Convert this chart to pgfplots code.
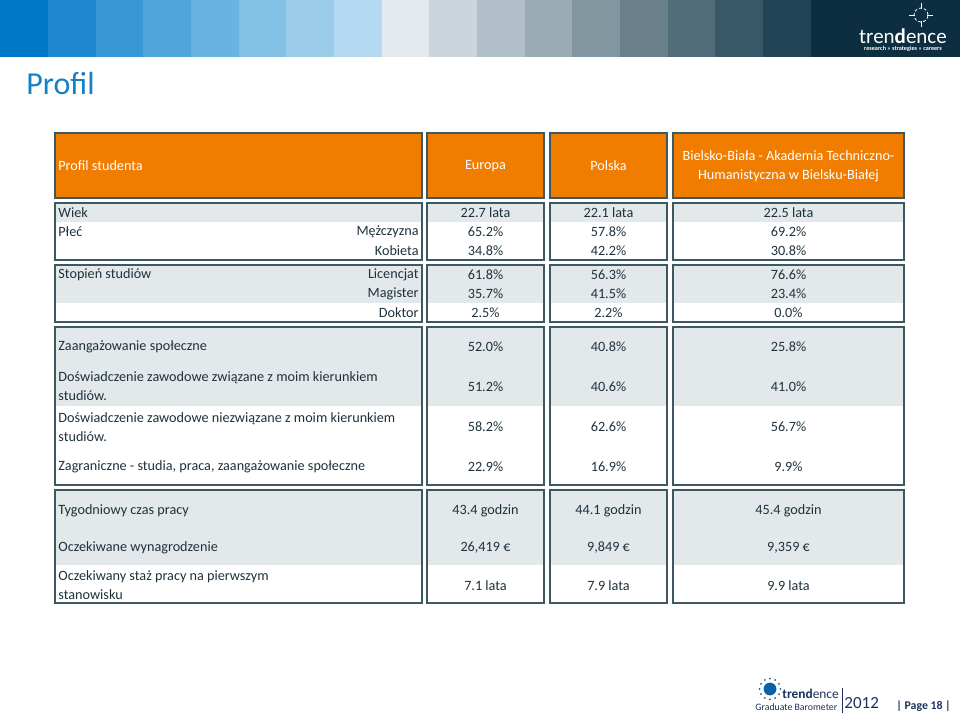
\documentclass[border=0pt]{standalone}
\usepackage{fontspec}
\setmainfont{Carlito}
\usepackage{pgfplots}
\pgfplotsset{compat=1.18}
\definecolor{orangeH}{RGB}{240,125,0}
\definecolor{bandG}{RGB}{227,232,235}
\definecolor{frameC}{RGB}{62,88,97}
\definecolor{txtC}{RGB}{30,50,60}
\definecolor{titleC}{RGB}{22,128,196}
\definecolor{navy}{RGB}{30,48,92}
\definecolor{c1}{RGB}{0,120,200}
\definecolor{c2}{RGB}{30,137,208}
\definecolor{c3}{RGB}{55,151,213}
\definecolor{c4}{RGB}{80,165,219}
\definecolor{c5}{RGB}{104,179,225}
\definecolor{c6}{RGB}{130,192,230}
\definecolor{c7}{RGB}{155,205,235}
\definecolor{c8}{RGB}{180,217,240}
\definecolor{c9}{RGB}{227,233,237}
\definecolor{c10}{RGB}{202,214,220}
\definecolor{c11}{RGB}{177,192,200}
\definecolor{c12}{RGB}{154,171,180}
\definecolor{c13}{RGB}{130,150,160}
\definecolor{c14}{RGB}{105,128,140}
\definecolor{c15}{RGB}{80,108,121}
\definecolor{c16}{RGB}{56,88,103}
\definecolor{c17}{RGB}{33,69,86}
\definecolor{c18}{RGB}{13,46,64}
\newcommand{\tf}{\fontsize{7.1}{9.5}\selectfont}
\newcommand{\fourfill}[2]{%
  \fill[bandG] (axis cs:55,#1) rectangle (axis cs:422,#2);
  \fill[bandG] (axis cs:427,#1) rectangle (axis cs:544,#2);
  \fill[bandG] (axis cs:550,#1) rectangle (axis cs:667,#2);
  \fill[bandG] (axis cs:673,#1) rectangle (axis cs:904,#2);}
\newcommand{\fourframe}[2]{%
  \draw[frameC, line width=0.8pt] (axis cs:55,#1) rectangle (axis cs:422,#2);
  \draw[frameC, line width=0.8pt] (axis cs:427,#1) rectangle (axis cs:544,#2);
  \draw[frameC, line width=0.8pt] (axis cs:550,#1) rectangle (axis cs:667,#2);
  \draw[frameC, line width=0.8pt] (axis cs:673,#1) rectangle (axis cs:904,#2);}
\newcommand{\gdot}[1]{\fill[c1!60!navy] (axis cs:770,689) ++(#1:5.2pt) circle[radius=0.5pt];}
\pgfplotsset{valstyle/.style={draw=none, mark=none, nodes near coords, point meta=explicit symbolic,
    nodes near coords style={anchor=center, font=\tf, text=txtC, inner sep=0pt}}}
\begin{document}
\begin{tikzpicture}
\begin{axis}[hide axis, scale only axis, width=480pt, height=358.5pt,
  xmin=0, xmax=960, ymin=0, ymax=717, y dir=reverse, clip=false]
% top band
\fill[c1] (axis cs:0,0) rectangle (axis cs:48,57);
\fill[c2] (axis cs:48,0) rectangle (axis cs:95.5,57);
\fill[c3] (axis cs:95.5,0) rectangle (axis cs:143,57);
\fill[c4] (axis cs:143,0) rectangle (axis cs:191,57);
\fill[c5] (axis cs:191,0) rectangle (axis cs:238.5,57);
\fill[c6] (axis cs:238.5,0) rectangle (axis cs:286,57);
\fill[c7] (axis cs:286,0) rectangle (axis cs:334,57);
\fill[c8] (axis cs:334,0) rectangle (axis cs:381.5,57);
\fill[c9] (axis cs:381.5,0) rectangle (axis cs:429,57);
\fill[c10] (axis cs:429,0) rectangle (axis cs:477,57);
\fill[c11] (axis cs:477,0) rectangle (axis cs:524.5,57);
\fill[c12] (axis cs:524.5,0) rectangle (axis cs:572,57);
\fill[c13] (axis cs:572,0) rectangle (axis cs:620,57);
\fill[c14] (axis cs:620,0) rectangle (axis cs:667.5,57);
\fill[c15] (axis cs:667.5,0) rectangle (axis cs:715,57);
\fill[c16] (axis cs:715,0) rectangle (axis cs:763,57);
\fill[c17] (axis cs:763,0) rectangle (axis cs:810.5,57);
\fill[c18] (axis cs:810.5,0) rectangle (axis cs:960,57);
% logo top right
\draw[white, line width=0.4pt, dash pattern=on 1.5pt off 1pt] (axis cs:921,15) circle[radius=3.5pt];
\draw[white, line width=0.4pt] (axis cs:921,3) -- (axis cs:921,9) (axis cs:921,21) -- (axis cs:921,27) (axis cs:909,15) -- (axis cs:915,15) (axis cs:927,15) -- (axis cs:933,15);
\node[white, anchor=center, inner sep=0pt, font=\fontsize{10.5}{12}\selectfont] at (axis cs:903,36) {tren\textbf{d}ence};
\node[white, anchor=center, inner sep=0pt, font=\fontsize{3.1}{4}\selectfont\bfseries] at (axis cs:903,48.5) {research » strategies » careers};
% title
\node[titleC, anchor=base west, inner sep=0pt, font=\fontsize{16}{19}\selectfont] at (axis cs:26,94) {Profil};
% header boxes
\fill[orangeH] (axis cs:55,133) rectangle (axis cs:422,198);
\fill[orangeH] (axis cs:427,133) rectangle (axis cs:544,198);
\fill[orangeH] (axis cs:550,133) rectangle (axis cs:667,198);
\fill[orangeH] (axis cs:673,133) rectangle (axis cs:904,198);
% grey bands
\fourfill{203}{222}
\fourfill{265}{303}
\fourfill{327}{406}
\fourfill{490}{565}
% frames
\fourframe{133}{198}
\fourframe{203}{260}
\fourframe{265}{322}
\fourframe{327}{485}
\fourframe{490}{603}
% header text
\node[white, anchor=west, inner sep=0pt, font=\tf] at (axis cs:58,166) {Profil studenta};
\node[white, anchor=center, inner sep=0pt, font=\tf] at (axis cs:485.5,166) {Europa};
\node[white, anchor=center, inner sep=0pt, font=\tf] at (axis cs:608.5,166) {Polska};
\node[white, anchor=center, inner sep=0pt, align=center, font=\tf] at (axis cs:788.5,166.5) {Bielsko-Biała - Akademia Techniczno-\\Humanistyczna w Bielsku-Białej};
% row labels
\node[txtC, inner sep=0pt, font=\tf, anchor=west] at (axis cs:58,213) {Wiek};
\node[txtC, inner sep=0pt, font=\tf, anchor=west] at (axis cs:58,232) {Płeć};
\node[txtC, inner sep=0pt, font=\tf, anchor=east] at (axis cs:419,232) {Mężczyzna};
\node[txtC, inner sep=0pt, font=\tf, anchor=east] at (axis cs:419,251) {Kobieta};
\node[txtC, inner sep=0pt, font=\tf, anchor=west] at (axis cs:58,275) {Stopień studiów};
\node[txtC, inner sep=0pt, font=\tf, anchor=east] at (axis cs:419,275) {Licencjat};
\node[txtC, inner sep=0pt, font=\tf, anchor=east] at (axis cs:419,294) {Magister};
\node[txtC, inner sep=0pt, font=\tf, anchor=east] at (axis cs:419,313) {Doktor};
\node[txtC, inner sep=0pt, font=\tf, anchor=west] at (axis cs:58,347) {Zaangażowanie społeczne};
\node[txtC, inner sep=0pt, font=\tf, anchor=west, align=left] at (axis cs:58,386.5) {Doświadczenie zawodowe związane z moim kierunkiem\\studiów.};
\node[txtC, inner sep=0pt, font=\tf, anchor=west, align=left] at (axis cs:58,427) {Doświadczenie zawodowe niezwiązane z moim kierunkiem\\studiów.};
\node[txtC, inner sep=0pt, font=\tf, anchor=west] at (axis cs:58,467) {Zagraniczne - studia, praca, zaangażowanie społeczne};
\node[txtC, inner sep=0pt, font=\tf, anchor=west] at (axis cs:58,511) {Tygodniowy czas pracy};
\node[txtC, inner sep=0pt, font=\tf, anchor=west] at (axis cs:58,548) {Oczekiwane wynagrodzenie};
\node[txtC, inner sep=0pt, font=\tf, anchor=west, align=left] at (axis cs:58,585.5) {Oczekiwany staż pracy na pierwszym\\stanowisku};
% values: Europa
\addplot[valstyle] coordinates {
(485.5,213) [22.7 lata]
(485.5,232) [65.2\%]
(485.5,251) [34.8\%]
(485.5,275) [61.8\%]
(485.5,294) [35.7\%]
(485.5,313) [2.5\%]
(485.5,347) [52.0\%]
(485.5,386.5) [51.2\%]
(485.5,427) [58.2\%]
(485.5,467) [22.9\%]
(485.5,511) [43.4 godzin]
(485.5,548) [26,419 €]
(485.5,585.5) [7.1 lata]
};
% values: Polska
\addplot[valstyle] coordinates {
(608.5,213) [22.1 lata]
(608.5,232) [57.8\%]
(608.5,251) [42.2\%]
(608.5,275) [56.3\%]
(608.5,294) [41.5\%]
(608.5,313) [2.2\%]
(608.5,347) [40.8\%]
(608.5,386.5) [40.6\%]
(608.5,427) [62.6\%]
(608.5,467) [16.9\%]
(608.5,511) [44.1 godzin]
(608.5,548) [9,849 €]
(608.5,585.5) [7.9 lata]
};
% values: Bielsko-Biala
\addplot[valstyle] coordinates {
(788.5,213) [22.5 lata]
(788.5,232) [69.2\%]
(788.5,251) [30.8\%]
(788.5,275) [76.6\%]
(788.5,294) [23.4\%]
(788.5,313) [0.0\%]
(788.5,347) [25.8\%]
(788.5,386.5) [41.0\%]
(788.5,427) [56.7\%]
(788.5,467) [9.9\%]
(788.5,511) [45.4 godzin]
(788.5,548) [9,359 €]
(788.5,585.5) [9.9 lata]
};
% footer logo
\fill[c1!70!navy] (axis cs:770,689) circle[radius=3.2pt];
\gdot{0}\gdot{30}\gdot{60}\gdot{90}\gdot{120}\gdot{150}
\gdot{180}\gdot{210}\gdot{240}\gdot{270}\gdot{300}\gdot{330}
\node[navy, anchor=west, inner sep=0pt, font=\fontsize{6.7}{8}\selectfont] at (axis cs:782,694) {\textbf{trend}ence};
\node[navy, anchor=west, inner sep=0pt, font=\fontsize{4.9}{6}\selectfont] at (axis cs:755,707) {Graduate Barometer};
\draw[navy, line width=0.5pt] (axis cs:842,688) -- (axis cs:842,713);
\node[navy, anchor=west, inner sep=0pt, font=\fontsize{8.5}{10}\selectfont] at (axis cs:844,703.5) {2012};
\node[navy, anchor=west, inner sep=0pt, font=\fontsize{5.9}{7}\selectfont\bfseries] at (axis cs:896,706) {| Page 18 |};
\end{axis}
\end{tikzpicture}
\end{document}
